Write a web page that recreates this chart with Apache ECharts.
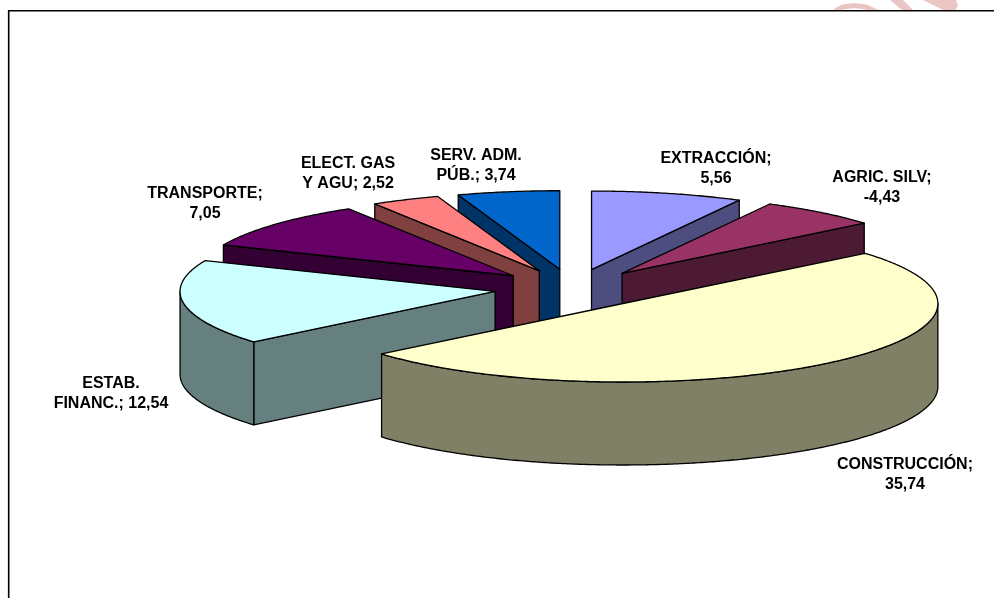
<!DOCTYPE html>
<html>
<head>
<meta charset="utf-8">
<style>html,body{margin:0;padding:0;background:#fff;overflow:hidden}#c{width:994px;height:598px}</style>
<script src="https://cdn.jsdelivr.net/npm/echarts@6/dist/echarts.min.js"></script>
</head>
<body>
<div id="c"></div>
<script>
// Data, clockwise from 12 o'clock
var categories = ['EXTRACCIÓN', 'AGRIC. SILV', 'CONSTRUCCIÓN', 'ESTAB.\nFINANC.', 'TRANSPORTE', 'ELECT. GAS\nY AGU', 'SERV. ADM.\nPÚB.'];
var values = [5.56, -4.43, 35.74, 12.54, 7.05, 2.52, 3.74];
var valueSeparators = ['\n', '\n', '\n', ' ', '\n', ' ', ' '];
var topColors = ['#9999FF', '#993366', '#FFFFCC', '#CCFFFF', '#660066', '#FF8080', '#0066CC'];
var sideColors = ['#4D4D80', '#4D1A33', '#808066', '#668080', '#330033', '#804040', '#003366'];
// Painter's order: far slices first, the nearest last
var drawOrder = [6, 5, 4, 3, 0, 1, 2];
// Label anchors (centre x, y of first line)
var labelAnchors = [[716, 157], [882, 176], [905, 463], [111, 382], [205, 192], [348, 162], [476, 154]];

var PIE = { cx: 572.6, cy: 288.5, rx: 315, ry: 78.5, depth: 83, explode: 78.4 };
var FONT = { size: 16, family: '"Liberation Sans", Arial, sans-serif', lineHeight: 20 };

var total = values.reduce(function (s, v) { return s + Math.abs(v); }, 0);
var spans = [], acc = 0;
values.forEach(function (v) {
  var a = Math.abs(v) / total * 360;
  spans.push([acc, acc + a]);
  acc += a;
});
function rad(d) { return d * Math.PI / 180; }

function sliceCentre(i) {
  var mid = rad((spans[i][0] + spans[i][1]) / 2);
  return [PIE.cx + PIE.explode * Math.sin(mid),
          PIE.cy - PIE.explode * Math.cos(mid) * PIE.ry / PIE.rx];
}
function rim(c, deg, dz) {
  return [c[0] + PIE.rx * Math.sin(rad(deg)), c[1] - PIE.ry * Math.cos(rad(deg)) + (dz || 0)];
}
function arcPts(c, a, b, dz) {
  var pts = [], n = Math.max(2, Math.ceil(Math.abs(b - a) * 2));
  for (var k = 0; k <= n; k++) pts.push(rim(c, a + (b - a) * k / n, dz));
  return pts;
}
function poly(points, fill) {
  return { type: 'polygon', shape: { points: points },
    style: { fill: fill, stroke: '#000', lineWidth: 1.3, lineJoin: 'round' } };
}
function renderSlice(params) {
  var i = drawOrder[params.dataIndex];
  var s = spans[i], c = sliceCentre(i), d = PIE.depth, kids = [];
  function cutFace(deg) {
    var r = rim(c, deg);
    kids.push(poly([c, r, [r[0], r[1] + d], [c[0], c[1] + d]], sideColors[i]));
  }
  if (Math.sin(rad(s[1])) > 0.001) cutFace(s[1]);
  if (Math.sin(rad(s[0])) < -0.001) cutFace(s[0]);
  // outer wall: the part of the rim that faces the viewer (90..270 deg)
  var a = Math.max(s[0], 90), b = Math.min(s[1], 270);
  if (b > a) {
    var top = arcPts(c, a, b, 0), bot = arcPts(c, b, a, d);
    kids.push(poly(top.concat(bot), sideColors[i]));
  }
  kids.push(poly([c].concat(arcPts(c, s[0], s[1], 0)), topColors[i]));
  return { type: 'group', children: kids };
}

var labels = categories.map(function (n, i) {
  return n + ';' + valueSeparators[i] + String(values[i]).replace('.', ',');
});

var PINK = '#EBC4C4';
var chart = echarts.init(document.getElementById('c'), null, { renderer: 'canvas' });
chart.setOption({
  animation: false,
  backgroundColor: '#fff',
  graphic: [
    { type: 'polyline', silent: true, z: 1, shape: { points: [[835, 11], [843, 7], [854, 5.5], [866, 7], [877, 12]] },
      style: { stroke: PINK, lineWidth: 5, fill: null } },
    { type: 'polygon', silent: true, z: 1, shape: { points: [[890, 0], [903, 0], [913, 10], [902, 10]] },
      style: { fill: PINK } },
    { type: 'polygon', silent: true, z: 1, shape: { points: [[923, 0], [956, 0], [958, 6], [955, 10], [943, 10]] },
      style: { fill: PINK } },
    { type: 'rect', silent: true, z: 2,
      shape: { x: 8.7, y: 10.8, width: 1100, height: 800 },
      style: { fill: '#fff', stroke: '#000', lineWidth: 1.6 } }
  ].concat(labels.map(function (t, i) {
    return { type: 'text', silent: true, z: 10, x: labelAnchors[i][0], y: labelAnchors[i][1] - FONT.lineHeight / 2 + 2,
      style: { text: t, fill: '#000', align: 'center', verticalAlign: 'top',
        font: 'bold ' + FONT.size + 'px ' + FONT.family, lineHeight: FONT.lineHeight } };
  })),
  series: [{
    type: 'custom',
    coordinateSystem: 'none',
    silent: true,
    z: 5,
    clip: false,
    renderItem: renderSlice,
    data: drawOrder.map(function (i) { return { name: categories[i], value: values[i] }; })
  }]
});
</script>
</body>
</html>
